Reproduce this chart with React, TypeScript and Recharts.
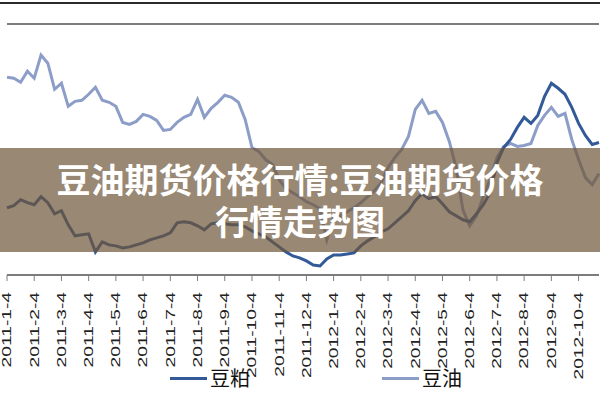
import { LineChart, Line, XAxis, YAxis, CartesianGrid } from "recharts";

// weekly samples, 4 per month, from 2011-1 to 2012-10
const months = [
  "2011-1", "2011-2", "2011-3", "2011-4", "2011-5", "2011-6", "2011-7", "2011-8",
  "2011-9", "2011-10", "2011-11", "2011-12", "2012-1", "2012-2", "2012-3", "2012-4",
  "2012-5", "2012-6", "2012-7", "2012-8", "2012-9", "2012-10",
];
const days = [4, 11, 18, 25];
const dates = months.flatMap((m) => days.map((d) => `${m}-${d}`));

// 豆粕 (元/吨)
const douPo = [
  3170, 3190, 3250, 3220, 3200, 3280, 3220, 3110,
  3140, 3000, 2890, 2900, 2910, 2730, 2830, 2800,
  2790, 2770, 2780, 2800, 2820, 2850, 2870, 2890,
  2920, 3020, 3030, 3020, 2990, 2950, 3010, 3020,
  3010, 3000, 3000, 2980, 2940, 2910, 2880, 2830,
  2780, 2730, 2690, 2670, 2640, 2600, 2590, 2660,
  2700, 2700, 2710, 2720, 2790, 2840, 2880, 2930,
  2960, 3020, 3080, 3140, 3240, 3310, 3260, 3280,
  3210, 3130, 3090, 3050, 3030, 3110, 3200, 3320,
  3620, 3770, 3850, 3970, 4070, 4010, 4090, 4280,
  4410, 4360, 4300, 4170, 4010, 3890, 3800, 3820,
];

// 豆油 (元/吨)
const douYou = [
  9970, 9960, 9920, 10030, 9960, 10190, 10110, 9850,
  9910, 9680, 9730, 9740, 9800, 9870, 9740, 9720,
  9680, 9520, 9500, 9530, 9600, 9580, 9540, 9440,
  9450, 9520, 9570, 9600, 9750, 9570, 9660, 9720,
  9790, 9770, 9720, 9550, 9270, 9230, 9150, 9100,
  8950, 8860, 8820, 8780, 8730, 8700, 8660, 8350,
  8570, 8590, 8630, 8670, 8720, 8780, 8840, 8920,
  9070, 9170, 9250, 9380, 9650, 9740, 9610, 9630,
  9520, 9330, 9070, 8650, 8490, 8590, 8780, 8950,
  9170, 9280, 9310, 9280, 9290, 9310, 9490, 9590,
  9670, 9580, 9610, 9350, 9150, 8970, 8900, 9010,
];

const poTicks = [2500, 3000, 3500, 4000, 4500, 5000];
const seriesNames = ["豆粕", "豆油"];
const seriesColors = ["#335a98", "#8c9ec8"];
const titleLines = ["豆油期货价格行情:豆油期货价格", "行情走势图"];

const rows = dates.map((date, i) => ({
  date,
  [seriesNames[0]]: douPo[i],
  [seriesNames[1]]: douYou[i],
}));

function DateTick(props: any) {
  const { x, y, payload } = props;
  return (
    <g transform={`translate(${x},${y + 9})`}>
      <text
        transform="rotate(-90) scale(1.6,1)"
        textAnchor="end"
        dy="0.36em"
        fontSize={12}
        fontFamily="Liberation Sans, Arial, sans-serif"
        fill="#222"
      >
        {payload.value}
      </text>
    </g>
  );
}

const legendSpots = [
  { lineX: 170, textX: 210 },
  { lineX: 382, textX: 422 },
];

export default function App() {
  return (
    <div
      style={{
        position: "absolute",
        left: 0,
        top: 0,
        width: 600,
        height: 400,
        background: "#fff",
        overflow: "hidden",
      }}
    >
      <LineChart
        width={600}
        height={400}
        data={rows}
        margin={{ top: 24, right: 1, left: 7, bottom: 45 }}
      >
        <CartesianGrid
          yAxisId="left"
          vertical={false}
          stroke="#7c7c7c"
          strokeWidth={2}
        />
        <XAxis
          dataKey="date"
          interval={3}
          height={80}
          tick={<DateTick />}
          tickSize={6}
          tickLine={{ stroke: "#7c7c7c" }}
          axisLine={{ stroke: "#7c7c7c", strokeWidth: 2 }}
        />
        <YAxis
          yAxisId="left"
          width={0}
          domain={[2500, 5000]}
          ticks={poTicks}
          tick={false}
          tickLine={false}
          axisLine={{ stroke: "#7c7c7c", strokeWidth: 2 }}
        />
        <YAxis yAxisId="right" orientation="right" hide domain={[8000, 10500]} />
        <Line
          yAxisId="right"
          dataKey={seriesNames[1]}
          stroke={seriesColors[1]}
          strokeWidth={3}
          dot={false}
          type="linear"
          isAnimationActive={false}
        />
        <Line
          yAxisId="left"
          dataKey={seriesNames[0]}
          stroke={seriesColors[0]}
          strokeWidth={3}
          dot={false}
          type="linear"
          isAnimationActive={false}
        />
      </LineChart>

      {/* frame line at the very top */}
      <div
        style={{ position: "absolute", left: 0, top: 2, width: 600, height: 2, background: "#2a2a2a" }}
      />

      {/* legend */}
      {seriesNames.map((name, i) => (
        <div key={name}>
          <div
            style={{
              position: "absolute",
              left: legendSpots[i].lineX,
              top: 377,
              width: 37,
              height: 3,
              background: seriesColors[i],
            }}
          />
          <div
            style={{
              position: "absolute",
              left: legendSpots[i].textX,
              top: 365,
              fontSize: 20,
              lineHeight: "26px",
              fontFamily: "Noto Sans CJK SC, sans-serif",
              color: "#111",
            }}
          >
            {name}
          </div>
        </div>
      ))}

      {/* title banner */}
      <div
        style={{
          position: "absolute",
          left: 0,
          top: 148,
          width: 600,
          height: 104,
          background: "rgba(110, 85, 55, 0.7)",
          color: "#fff",
          fontFamily: "Noto Sans CJK SC, sans-serif",
          fontWeight: 700,
          fontSize: 34,
          textAlign: "center",
        }}
      >
        <div style={{ position: "absolute", left: 0, width: 600, top: 13, lineHeight: "36px" }}>
          {titleLines[0]}
        </div>
        <div style={{ position: "absolute", left: 0, width: 600, top: 55, lineHeight: "36px" }}>
          {titleLines[1]}
        </div>
      </div>
    </div>
  );
}
